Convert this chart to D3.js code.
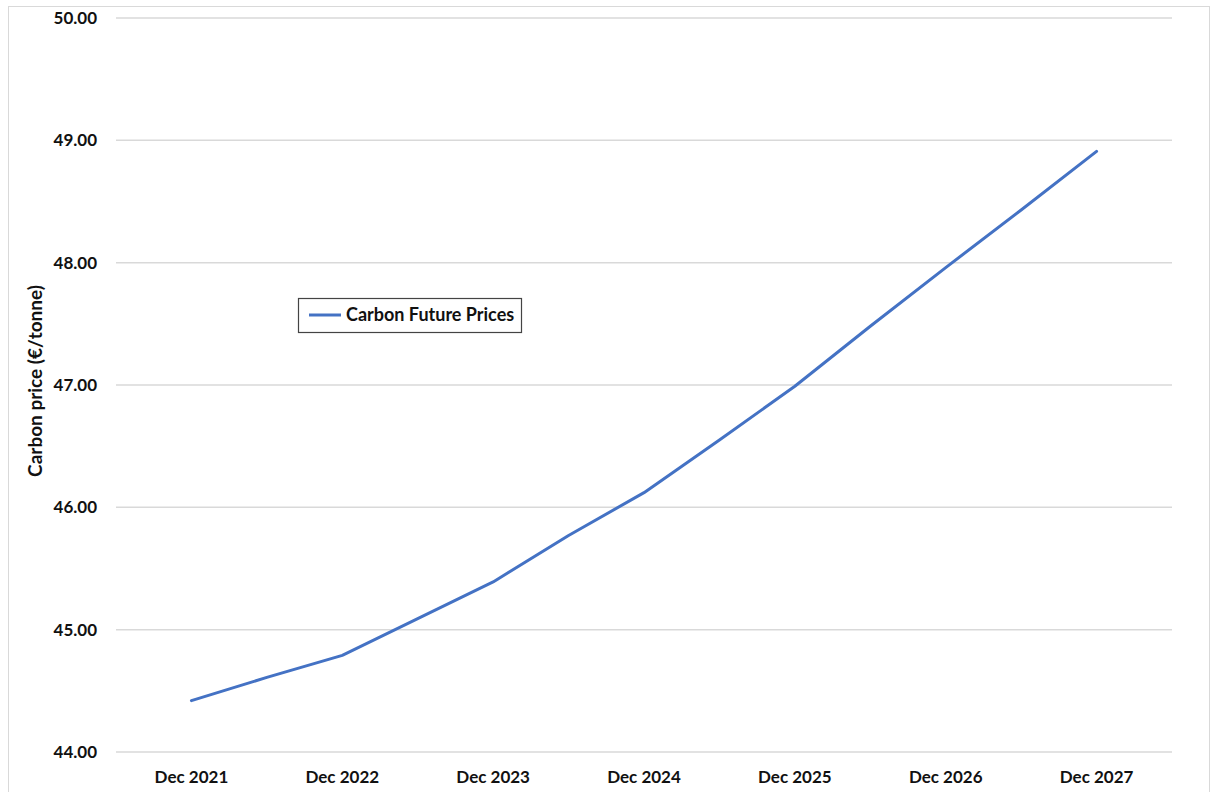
<!DOCTYPE html>
<html>
<head>
<meta charset="utf-8">
<script src="https://cdn.jsdelivr.net/npm/d3@7"></script>
<style>
  body { margin: 0; background: #fff; }
  svg text { font-family: Lato, "Open Sans", sans-serif; font-weight: bold; fill: #111; }
</style>
</head>
<body>
<div id="chart"></div>
<script>
// half-year steps, Dec 2021 .. Dec 2027
const periods = ['Dec 2021', 'Jun 2022', 'Dec 2022', 'Jun 2023', 'Dec 2023', 'Jun 2024', 'Dec 2024',
                 'Jun 2025', 'Dec 2025', 'Jun 2026', 'Dec 2026', 'Jun 2027', 'Dec 2027'];
const prices = [44.42, 44.61, 44.79, 45.09, 45.39, 45.77, 46.12, 46.55, 46.99, 47.48, 47.96, 48.43, 48.91];
const xLabels = ['Dec 2021', 'Dec 2022', 'Dec 2023', 'Dec 2024', 'Dec 2025', 'Dec 2026', 'Dec 2027'];
const yTicks = [44, 45, 46, 47, 48, 49, 50];
const seriesName = 'Carbon Future Prices';
const yTitle = 'Carbon price (€/tonne)';

const width = 1213, height = 792;
const plot = { left: 116, right: 1172, top: 18, bottom: 752 };
const font = 'Lato, "Open Sans", sans-serif';

const svg = d3.select('#chart').append('svg')
    .attr('width', width)
    .attr('height', height);

// outer frame
svg.append('rect')
    .attr('x', 8.5).attr('y', 6.5)
    .attr('width', 1201).attr('height', 800)
    .attr('fill', 'none')
    .attr('stroke', '#d9d9d9');

// category bands for the labels; line points sit on a half-step grid
const xBand = d3.scaleBand().domain(xLabels).range([plot.left, plot.right]);
const xIdx = d3.scaleLinear().domain([-1, periods.length]).range([plot.left, plot.right]);
const y = d3.scaleLinear().domain([44, 50]).range([plot.bottom, plot.top]);

// gridlines
svg.append('g')
    .selectAll('line')
    .data(yTicks)
    .enter()
    .append('line')
    .attr('x1', plot.left).attr('x2', plot.right)
    .attr('y1', d => y(d)).attr('y2', d => y(d))
    .attr('stroke', '#d9d9d9')
    .attr('stroke-width', 1.5);

// y axis labels
const yAxis = svg.append('g')
    .attr('transform', `translate(${plot.left - 19},0)`)
    .call(d3.axisLeft(y).tickValues(yTicks).tickFormat(d3.format('.2f')).tickSize(0).tickPadding(0));
yAxis.select('.domain').remove();
yAxis.selectAll('text')
    .attr('font-size', '17px')
    .attr('font-family', font)
    .attr('fill', '#111');

// x axis labels
const xAxis = svg.append('g')
    .attr('transform', `translate(0,${plot.bottom})`)
    .call(d3.axisBottom(xBand).tickSize(0).tickPadding(19));
xAxis.select('.domain').remove();
xAxis.selectAll('text')
    .attr('font-size', '17px')
    .attr('font-family', font)
    .attr('fill', '#111');

// y title
svg.append('text')
    .attr('transform', 'translate(42,381) rotate(-90)')
    .attr('text-anchor', 'middle')
    .attr('font-size', '19px')
    .text(yTitle);

// series line
const line = d3.line()
    .x((d, i) => xIdx(i))
    .y(d => y(d));

svg.append('path')
    .datum(prices)
    .attr('d', line)
    .attr('fill', 'none')
    .attr('stroke', '#4472C4')
    .attr('stroke-width', 3)
    .attr('stroke-linejoin', 'round')
    .attr('stroke-linecap', 'round');

// legend
const legend = svg.append('g').attr('transform', 'translate(298,298)');
legend.append('rect')
    .attr('x', 0.5).attr('y', 0.5)
    .attr('width', 223).attr('height', 34)
    .attr('fill', '#fff')
    .attr('stroke', '#444')
    .attr('stroke-width', 1.2);
legend.append('line')
    .attr('x1', 11).attr('x2', 43)
    .attr('y1', 17).attr('y2', 17)
    .attr('stroke', '#4472C4')
    .attr('stroke-width', 3);
legend.append('text')
    .attr('x', 48).attr('y', 17)
    .attr('dy', '0.35em')
    .attr('font-size', '18px')
    .text(seriesName);
</script>
</body>
</html>
